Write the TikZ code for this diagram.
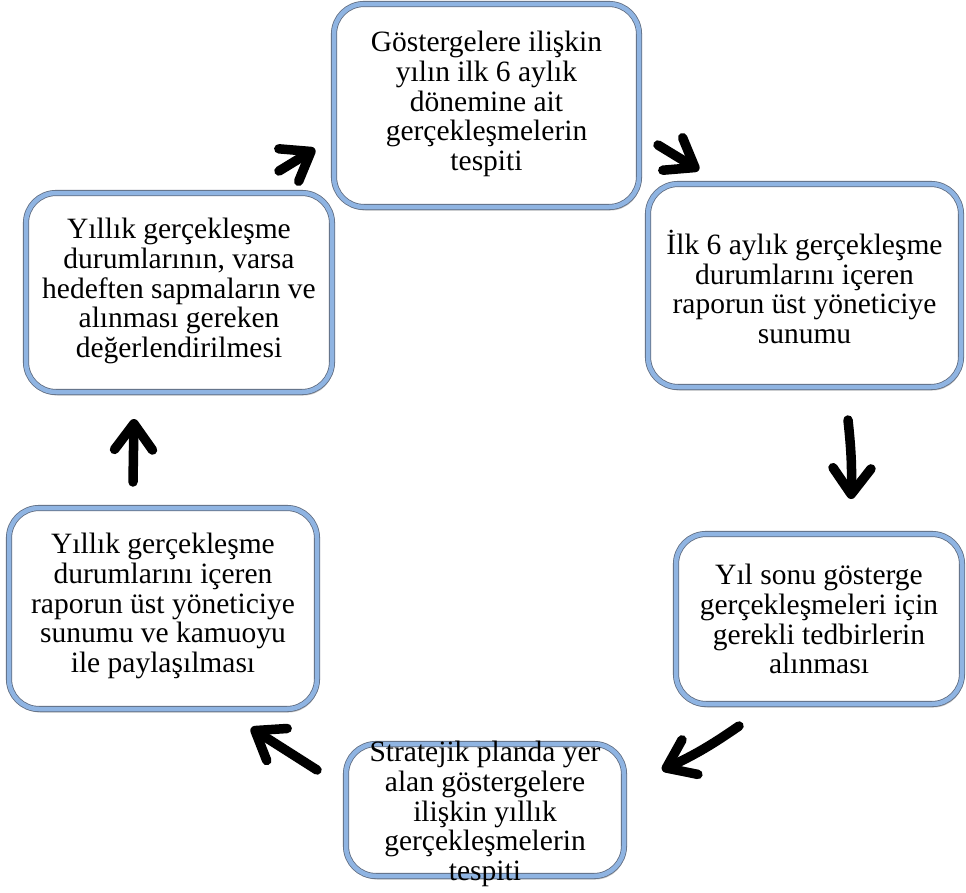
\documentclass[tikz,border=0pt]{standalone}
\usepackage{fontspec}
\setmainfont{Liberation Serif}
\usetikzlibrary{arrows.meta,shadows}
\definecolor{boxblue}{RGB}{143,180,226}
\definecolor{boxedge}{RGB}{96,108,128}
\tikzset{
  stepbox/.style={rounded corners=30pt, draw=boxedge, line width=0.8pt,
    double=boxblue, double distance=4.5pt, fill=white,
    drop shadow={shadow xshift=1.5pt, shadow yshift=-3.5pt, fill=black, opacity=0.22},
    inner sep=0pt},
  steptext/.style={align=center, font=\fontsize{29.5}{29.8}\selectfont, inner sep=0pt},
  flowarrow/.style={line width=9.5pt, line cap=round,
    -{Straight Barb[length=26pt, width=38pt, round]}}
}
\begin{document}
\begin{tikzpicture}[x=1pt,y=-1pt]
\useasboundingbox (0,0) rectangle (966,892);
\fill[white] (0,0) rectangle (966,892);
% boxes
\node[stepbox, minimum width=305pt, minimum height=203pt] (b1) at (486.5,105.5) {};
\node[stepbox, minimum width=313pt, minimum height=203pt] (b2) at (804.5,285.5) {};
\node[stepbox, minimum width=286pt, minimum height=170pt] (b3) at (819,619) {};
\node[stepbox, minimum width=278pt, minimum height=132pt] (b4) at (485,810) {};
\node[stepbox, minimum width=308pt, minimum height=201pt] (b5) at (163,608.5) {};
\node[stepbox, minimum width=306pt, minimum height=199pt] (b6) at (179,292.5) {};
% texts
\node[steptext] (t1) at (486.5,104) {Göstergelere ilişkin\\yılın ilk 6 aylık\\dönemine ait\\gerçekleşmelerin\\tespiti};
\node[steptext] (t2) at (804.5,287) {İlk 6 aylık gerçekleşme\\durumlarını içeren\\raporun üst yöneticiye\\sunumu};
\node[steptext] (t3) at (819,619) {Yıl sonu gösterge\\gerçekleşmeleri için\\gerekli tedbirlerin\\alınması};
\node[steptext] (t4) at (485,814) {Stratejik planda yer\\alan göstergelere\\ilişkin yıllık\\gerçekleşmelerin\\tespiti};
\node[steptext] (t5) at (163,606) {Yıllık gerçekleşme\\durumlarını içeren\\raporun üst yöneticiye\\sunumu ve kamuoyu\\ile paylaşılması};
\node[steptext] (t6) at (179,291) {Yıllık gerçekleşme\\durumlarının, varsa\\hedeften sapmaların ve\\alınması gereken\\değerlendirilmesi};
% arrow end points
\coordinate (a1s) at (279,171); \coordinate (a1e) at (315,149);
\coordinate (a2s) at (658,145); \coordinate (a2e) at (699,170);
\coordinate (a3s) at (848,420); \coordinate (a3e) at (851,499);
\coordinate (a4s) at (739,726); \coordinate (a4e) at (662,770);
\coordinate (a5s) at (317,770); \coordinate (a5e) at (251,728);
\coordinate (a6s) at (133,482); \coordinate (a6e) at (134,419);
\draw[flowarrow] (a1s) -- (a1e);
\draw[flowarrow] (a2s) -- (a2e);
\draw[flowarrow] (a3s) to[bend left=4] (a3e);
\draw[flowarrow] (a4s) to[bend left=5] (a4e);
\draw[flowarrow] (a5s) -- (a5e);
\draw[flowarrow] (a6s) -- (a6e);
\end{tikzpicture}
\end{document}
